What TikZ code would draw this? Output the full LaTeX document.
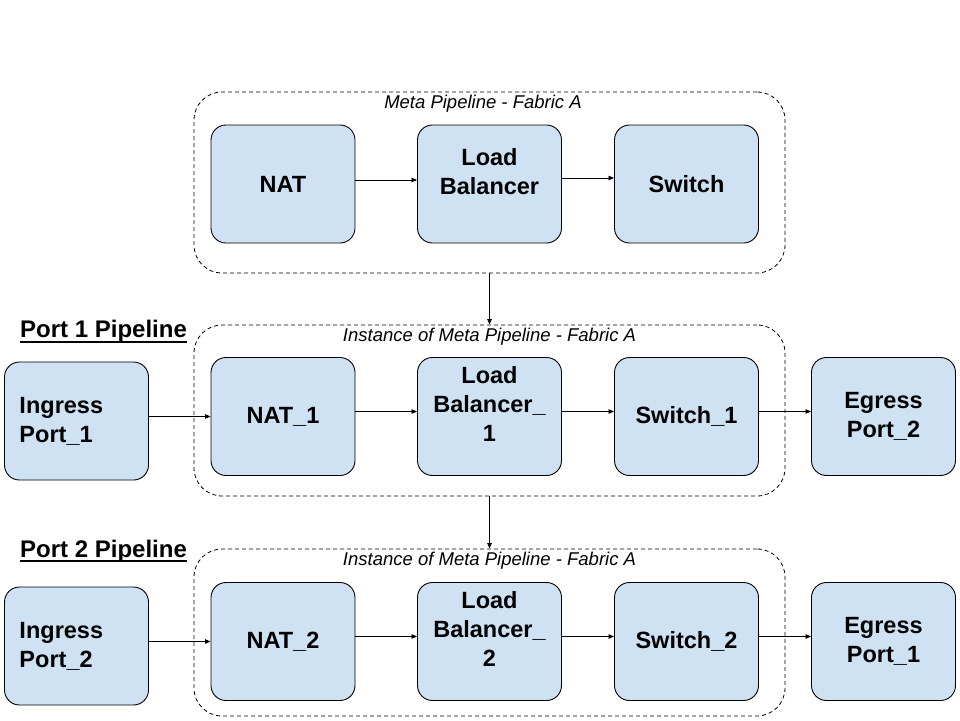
\documentclass[tikz,border=0pt]{standalone}
\usepackage{fontspec}
\setmainfont{Liberation Sans}
\usetikzlibrary{arrows.meta}
\definecolor{boxblue}{HTML}{CFE2F3}
\begin{document}
\begin{tikzpicture}[x=1pt,y=-1pt,
  blk/.style={draw=black, fill=boxblue, rounded corners=15pt, line width=0.9pt,
    minimum width=144pt, minimum height=118pt, inner sep=0pt, align=center,
    font=\fontsize{23.5}{29}\selectfont\bfseries},
  raised/.style={blk, text depth=26pt},
  leftblk/.style={blk, align=left, text width=114pt, inner xsep=15pt},
  grp/.style={draw=black, line width=0.8pt, dash pattern=on 4pt off 3pt,
    rounded corners=28pt, inner sep=0pt},
  grplabel/.style={font=\fontsize{18.5}{21}\selectfont\itshape, inner sep=0pt},
  portlabel/.style={font=\fontsize{24}{28}\selectfont\bfseries, inner sep=0pt, anchor=base west},
  arr/.style={-{Triangle[length=5.5pt,width=4.5pt]}, line width=0.8pt},
]
\useasboundingbox (0,0) rectangle (960,720);

% containers
\node[grp, minimum width=591pt, minimum height=181pt] (g1) at (489.5,182.5) {};
\node[grp, minimum width=591pt, minimum height=171pt] (g2) at (489.5,410.5) {};
\node[grp, minimum width=591pt, minimum height=167pt] (g3) at (489.5,632.5) {};

\node[grplabel] (l1) at (483,104) {Meta Pipeline - Fabric A};
\node[grplabel] (l2) at (489.5,337) {Instance of Meta Pipeline - Fabric A};
\node[grplabel] (l3) at (489.5,561) {Instance of Meta Pipeline - Fabric A};

\node[portlabel] (p1) at (20,337.5) {Port 1 Pipeline};
\node[portlabel] (p2) at (20,557) {Port 2 Pipeline};
\draw[line width=1.6pt] ([yshift=-4.2pt]p1.base west) -- ([yshift=-4.2pt]p1.base east);
\draw[line width=1.6pt] ([yshift=-4.2pt]p2.base west) -- ([yshift=-4.2pt]p2.base east);

% row 1
\node[blk] (nat) at (283,184) {NAT};
\node[raised] (lb) at (489.5,184) {Load\\Balancer};
\node[blk] (sw) at (686.5,184) {Switch};

% row 2
\node[leftblk] (in1) at (76.5,421) {Ingress\\Port\_1};
\node[blk] (nat1) at (283,416.5) {NAT\_1};
\node[raised] (lb1) at (489.5,416.5) {Load\\Balancer\_\\1};
\node[blk] (sw1) at (686.5,416.5) {Switch\_1};
\node[blk] (eg2) at (883.5,416.5) {Egress\\Port\_2};

% row 3
\node[leftblk] (in2) at (76.5,646) {Ingress\\Port\_2};
\node[blk] (nat2) at (283,641.5) {NAT\_2};
\node[raised] (lb2) at (489.5,641.5) {Load\\Balancer\_\\2};
\node[blk] (sw2) at (686.5,641.5) {Switch\_2};
\node[blk] (eg1) at (883.5,641.5) {Egress\\Port\_1};

% arrows row 1
\draw[arr] ([yshift=4pt]nat.east) -- ([yshift=4pt]lb.west);
\draw[arr] ([yshift=6pt]lb.east) -- ([yshift=6pt]sw.west);

% arrows row 2
\draw[arr] (in1.east |- nat1.west) -- (nat1.west);
\draw[arr] ([yshift=5pt]nat1.east) -- ([yshift=5pt]lb1.west);
\draw[arr] ([yshift=5pt]lb1.east) -- ([yshift=5pt]sw1.west);
\draw[arr] ([yshift=5pt]sw1.east) -- ([yshift=5pt]eg2.west);

% arrows row 3
\draw[arr] (in2.east |- nat2.west) -- (nat2.west);
\draw[arr] ([yshift=5pt]nat2.east) -- ([yshift=5pt]lb2.west);
\draw[arr] ([yshift=5pt]lb2.east) -- ([yshift=5pt]sw2.west);
\draw[arr] ([yshift=5pt]sw2.east) -- ([yshift=5pt]eg1.west);

% vertical arrows
\draw[arr] (g1.south) -- (g2.north);
\draw[arr] (g2.south) -- (g3.north);
\end{tikzpicture}
\end{document}
